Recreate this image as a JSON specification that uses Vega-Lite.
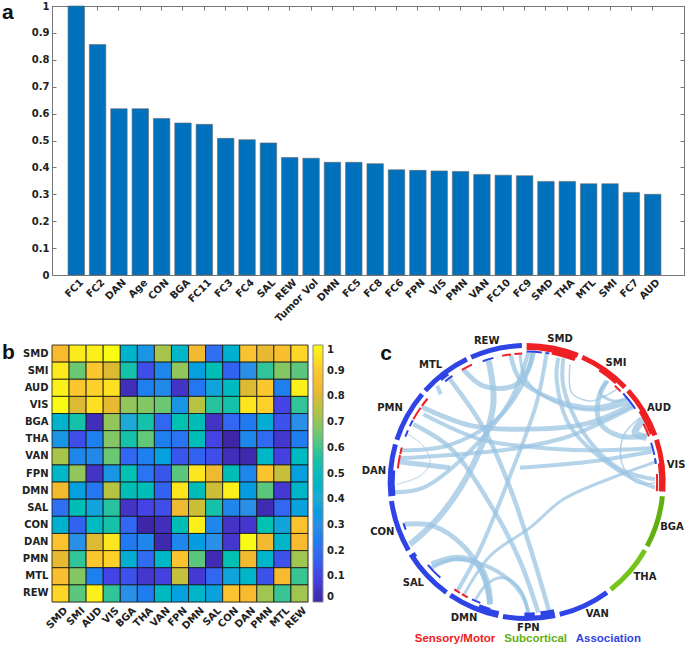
{
"$schema":"https://vega.github.io/schema/vega-lite/v6.json",
"padding":{"left":1,"top":0,"right":0,"bottom":0},
"background":"white",
"bounds":"flush",
"spacing":70,
"config":{"font":"DejaVu Sans","axis":{"labelFont":"DejaVu Sans","labelFontWeight":"bold","labelFontSize":10,"labelColor":"#222"}},
"datasets":{
"bars":[{"n":"FC1","v":1},{"n":"FC2","v":0.857},{"n":"DAN","v":0.618},{"n":"Age","v":0.618},{"n":"CON","v":0.582},{"n":"BGA","v":0.565},{"n":"FC11","v":0.56},{"n":"FC3","v":0.508},{"n":"FC4","v":0.503},{"n":"SAL","v":0.491},{"n":"REW","v":0.437},{"n":"Tumor Vol","v":0.434},{"n":"DMN","v":0.419},{"n":"FC5","v":0.419},{"n":"FC8","v":0.414},{"n":"FC6","v":0.391},{"n":"FPN","v":0.389},{"n":"VIS","v":0.387},{"n":"PMN","v":0.385},{"n":"VAN","v":0.374},{"n":"FC10","v":0.371},{"n":"FC9","v":0.369},{"n":"SMD","v":0.348},{"n":"THA","v":0.348},{"n":"MTL","v":0.339},{"n":"SMI","v":0.339},{"n":"FC7","v":0.307},{"n":"AUD","v":0.3}],
"ring":[
{"g":"s","a0":0,"a1":22,"r0":134,"r1":139},{"g":"s","a0":24,"a1":46,"r0":134,"r1":139},{"g":"s","a0":48,"a1":70,"r0":134,"r1":139},{"g":"s","a0":72,"a1":94,"r0":134,"r1":139},
{"g":"c","a0":96,"a1":118,"r0":134,"r1":139},{"g":"c2","a0":120,"a1":142,"r0":134,"r1":139},
{"g":"a","a0":144,"a1":166,"r0":134,"r1":139},{"g":"a","a0":168,"a1":190,"r0":134,"r1":139},{"g":"a","a0":192,"a1":214,"r0":134,"r1":139},{"g":"a","a0":216,"a1":238,"r0":134,"r1":139},{"g":"a","a0":240,"a1":262,"r0":134,"r1":139},{"g":"a","a0":264,"a1":286,"r0":134,"r1":139},{"g":"a","a0":288,"a1":310,"r0":134,"r1":139},{"g":"a","a0":312,"a1":334,"r0":134,"r1":139},{"g":"a","a0":336,"a1":358,"r0":134,"r1":139},
{"g":"s","a0":0,"a1":11,"r0":132,"r1":135},{"g":"s","a0":11,"a1":21.5,"r0":130,"r1":135},{"g":"s","a0":33,"a1":42,"r0":132,"r1":135},{"g":"s","a0":58,"a1":69,"r0":132,"r1":135},{"g":"s","a0":82,"a1":94,"r0":132.5,"r1":135},
{"g":"a","a0":264,"a1":275,"r0":132,"r1":135},{"g":"a","a0":196,"a1":201,"r0":131,"r1":135},{"g":"a","a0":192,"a1":196,"r0":132,"r1":135},{"g":"a","a0":168,"a1":174,"r0":130,"r1":135},{"g":"a","a0":176.5,"a1":181,"r0":130.5,"r1":135},{"g":"a","a0":236,"a1":238,"r0":132,"r1":135},{"g":"a","a0":320,"a1":324,"r0":132,"r1":135},
{"g":"a","a0":0,"a1":6.7,"r0":129.5,"r1":131.5},{"g":"a","a0":8.3,"a1":10,"r0":129.5,"r1":131.5},{"g":"a","a0":47.5,"a1":56,"r0":130,"r1":132},{"g":"a","a0":72.5,"a1":78,"r0":129.5,"r1":131.5},{"g":"a","a0":79.5,"a1":82,"r0":129.5,"r1":131.5},
{"g":"s","a0":42.5,"a1":46,"r0":129.5,"r1":131.5},{"g":"s","a0":63.5,"a1":69.5,"r0":129.5,"r1":131.5},{"g":"s","a0":86.5,"a1":94,"r0":129.5,"r1":131.5},
{"g":"s","a0":349,"a1":353,"r0":127.5,"r1":129.5},{"g":"s","a0":354.5,"a1":358,"r0":127.5,"r1":129.5},{"g":"a","a0":340,"a1":345,"r0":127.5,"r1":129.5},{"g":"s","a0":330,"a1":335,"r0":128.5,"r1":130.5},{"g":"a","a0":321,"a1":325,"r0":128.5,"r1":130.5},
{"g":"s","a0":306,"a1":310,"r0":128.5,"r1":130.5},{"g":"s","a0":299,"a1":305,"r0":128.5,"r1":130.5},{"g":"a","a0":295.5,"a1":298.5,"r0":128.5,"r1":130.5},{"g":"a","a0":290.5,"a1":293.5,"r0":128.5,"r1":130.5},
{"g":"s","a0":282.5,"a1":285.5,"r0":128.5,"r1":130.5},{"g":"s","a0":276,"a1":282,"r0":128.5,"r1":130.5},{"g":"a","a0":248.5,"a1":251.5,"r0":129,"r1":131},{"g":"a","a0":222,"a1":230,"r0":128,"r1":130},
{"g":"s","a0":211,"a1":214,"r0":128.5,"r1":130.5},{"g":"s","a0":207,"a1":210,"r0":128.5,"r1":130.5},{"g":"a","a0":201,"a1":205,"r0":128.5,"r1":130.5}
],
"chords":[
{"c":1,"s":1,"x":150,"y":358,"w":4},{"c":1,"s":2,"x":290,"y":345,"w":4},{"c":1,"s":3,"x":440,"y":265,"w":4},{"c":1,"s":4,"x":520,"y":155,"w":4},{"c":1,"s":5,"x":548,"y":65,"w":4},
{"c":2,"s":1,"x":148,"y":382,"w":4},{"c":2,"s":2,"x":300,"y":372,"w":4},{"c":2,"s":3,"x":510,"y":350,"w":4},{"c":2,"s":4,"x":660,"y":315,"w":4},{"c":2,"s":5,"x":850,"y":228,"w":4},
{"c":3,"s":1,"x":145,"y":392,"w":5},{"c":3,"s":2,"x":300,"y":410,"w":5},{"c":3,"s":3,"x":510,"y":410,"w":4},{"c":3,"s":4,"x":710,"y":393,"w":4},{"c":3,"s":5,"x":905,"y":362,"w":4},
{"c":4,"s":1,"x":215,"y":228,"w":5},{"c":4,"s":2,"x":360,"y":283,"w":5},{"c":4,"s":3,"x":510,"y":295,"w":5},{"c":4,"s":4,"x":710,"y":278,"w":5},{"c":4,"s":5,"x":845,"y":222,"w":5},
{"c":5,"s":1,"x":220,"y":250,"w":4},{"c":5,"s":2,"x":390,"y":325,"w":4},{"c":5,"s":3,"x":540,"y":347,"w":4},{"c":5,"s":4,"x":710,"y":358,"w":4},{"c":5,"s":5,"x":905,"y":352,"w":4},
{"c":6,"s":1,"x":300,"y":145,"w":4.5},{"c":6,"s":2,"x":400,"y":290,"w":4.5},{"c":6,"s":3,"x":480,"y":470,"w":4.5},{"c":6,"s":4,"x":550,"y":680,"w":4.5},{"c":6,"s":5,"x":597,"y":840,"w":4.5},
{"c":7,"s":1,"x":190,"y":280,"w":4.5},{"c":7,"s":2,"x":300,"y":350,"w":4.5},{"c":7,"s":3,"x":430,"y":535,"w":4.5},{"c":7,"s":4,"x":510,"y":690,"w":4.5},{"c":7,"s":5,"x":565,"y":845,"w":4.5},
{"c":8,"s":1,"x":170,"y":307,"w":1},{"c":8,"s":2,"x":220,"y":345,"w":1},{"c":8,"s":3,"x":240,"y":395,"w":1},{"c":8,"s":4,"x":210,"y":435,"w":1},{"c":8,"s":5,"x":140,"y":460,"w":1},
{"c":9,"s":1,"x":135,"y":484,"w":4},{"c":9,"s":2,"x":220,"y":470,"w":4},{"c":9,"s":3,"x":350,"y":370,"w":4},{"c":9,"s":4,"x":480,"y":210,"w":4},{"c":9,"s":5,"x":535,"y":65,"w":4},
{"c":10,"s":1,"x":180,"y":640,"w":6},{"c":10,"s":2,"x":270,"y":555,"w":6},{"c":10,"s":3,"x":370,"y":400,"w":6},{"c":10,"s":4,"x":430,"y":220,"w":6},{"c":10,"s":5,"x":415,"y":85,"w":6},
{"c":11,"s":1,"x":162,"y":580,"w":5},{"c":11,"s":2,"x":250,"y":585,"w":5},{"c":11,"s":3,"x":340,"y":645,"w":5},{"c":11,"s":4,"x":400,"y":735,"w":5},{"c":11,"s":5,"x":420,"y":820,"w":5},
{"c":12,"s":1,"x":245,"y":700,"w":6},{"c":12,"s":2,"x":320,"y":680,"w":6},{"c":12,"s":3,"x":385,"y":700,"w":6},{"c":12,"s":4,"x":415,"y":770,"w":6},{"c":12,"s":5,"x":420,"y":820,"w":6},
{"c":13,"s":1,"x":240,"y":712,"w":4},{"c":13,"s":2,"x":320,"y":685,"w":4},{"c":13,"s":3,"x":440,"y":720,"w":4},{"c":13,"s":4,"x":515,"y":790,"w":4},{"c":13,"s":5,"x":535,"y":845,"w":4},
{"c":14,"s":1,"x":375,"y":810,"w":3},{"c":14,"s":2,"x":410,"y":760,"w":3},{"c":14,"s":3,"x":460,"y":740,"w":3},{"c":14,"s":4,"x":510,"y":775,"w":3},{"c":14,"s":5,"x":535,"y":845,"w":3},
{"c":15,"s":1,"x":322,"y":780,"w":4},{"c":15,"s":2,"x":390,"y":655,"w":4},{"c":15,"s":3,"x":480,"y":435,"w":4},{"c":15,"s":4,"x":560,"y":215,"w":4},{"c":15,"s":5,"x":590,"y":65,"w":4},
{"c":16,"s":1,"x":340,"y":795,"w":3},{"c":16,"s":2,"x":420,"y":675,"w":3},{"c":16,"s":3,"x":540,"y":590,"w":3},{"c":16,"s":4,"x":640,"y":505,"w":3},{"c":16,"s":5,"x":800,"y":435,"w":3},{"c":16,"s":6,"x":920,"y":392,"w":3},
{"c":17,"s":1,"x":482,"y":72,"w":4.5},{"c":17,"s":2,"x":510,"y":145,"w":4.5},{"c":17,"s":3,"x":610,"y":205,"w":4.5},{"c":17,"s":4,"x":730,"y":230,"w":4.5},{"c":17,"s":5,"x":835,"y":205,"w":4.5},
{"c":18,"s":1,"x":510,"y":70,"w":3},{"c":18,"s":2,"x":530,"y":150,"w":3},{"c":18,"s":3,"x":620,"y":215,"w":3},{"c":18,"s":4,"x":740,"y":238,"w":3},{"c":18,"s":5,"x":840,"y":215,"w":3},
{"c":19,"s":1,"x":340,"y":115,"w":5},{"c":19,"s":2,"x":400,"y":165,"w":5},{"c":19,"s":3,"x":490,"y":165,"w":5},{"c":19,"s":4,"x":535,"y":115,"w":5},{"c":19,"s":5,"x":550,"y":65,"w":5},
{"c":20,"s":1,"x":640,"y":80,"w":4},{"c":20,"s":2,"x":640,"y":165,"w":4},{"c":20,"s":3,"x":700,"y":305,"w":4},{"c":20,"s":4,"x":810,"y":415,"w":4},{"c":20,"s":5,"x":915,"y":445,"w":4},
{"c":21,"s":1,"x":625,"y":80,"w":4},{"c":21,"s":2,"x":620,"y":145,"w":4},{"c":21,"s":3,"x":660,"y":285,"w":4},{"c":21,"s":4,"x":800,"y":415,"w":4},{"c":21,"s":5,"x":915,"y":470,"w":4},
{"c":22,"s":1,"x":660,"y":100,"w":1.5},{"c":22,"s":2,"x":665,"y":185,"w":1.5},{"c":22,"s":3,"x":720,"y":210,"w":1.5},{"c":22,"s":4,"x":765,"y":195,"w":1.5},{"c":22,"s":5,"x":800,"y":175,"w":1.5},
{"c":23,"s":1,"x":770,"y":150,"w":5},{"c":23,"s":2,"x":745,"y":205,"w":5},{"c":23,"s":3,"x":750,"y":275,"w":5},{"c":23,"s":4,"x":810,"y":315,"w":5},{"c":23,"s":5,"x":890,"y":315,"w":5},
{"c":24,"s":1,"x":775,"y":150,"w":3},{"c":24,"s":2,"x":750,"y":185,"w":3},{"c":24,"s":3,"x":790,"y":210,"w":3},{"c":24,"s":4,"x":835,"y":200,"w":3},
{"c":25,"s":1,"x":870,"y":260,"w":1.5},{"c":25,"s":2,"x":820,"y":315,"w":1.5},{"c":25,"s":3,"x":815,"y":395,"w":1.5},{"c":25,"s":4,"x":860,"y":455,"w":1.5},{"c":25,"s":5,"x":915,"y":455,"w":1.5},
{"c":26,"s":1,"x":880,"y":265,"w":7},{"c":26,"s":2,"x":855,"y":305,"w":7},{"c":26,"s":3,"x":890,"y":320,"w":7},
{"c":27,"s":1,"x":262,"y":165,"w":4},{"c":27,"s":2,"x":272,"y":190,"w":4},
{"c":28,"s":1,"x":135,"y":455,"w":8},{"c":28,"s":2,"x":172,"y":455,"w":6},
{"c":29,"s":1,"x":552,"y":65,"w":14},{"c":29,"s":2,"x":548,"y":100,"w":10},
{"c":30,"s":1,"x":642,"y":82,"w":14},{"c":30,"s":2,"x":640,"y":118,"w":8},
{"c":31,"s":1,"x":915,"y":450,"w":9},{"c":31,"s":2,"x":885,"y":452,"w":7},
{"c":32,"s":1,"x":410,"y":820,"w":8},{"c":32,"s":2,"x":415,"y":790,"w":6},
{"c":33,"s":1,"x":540,"y":845,"w":9},{"c":33,"s":2,"x":535,"y":810,"w":6},
{"c":34,"s":1,"x":590,"y":840,"w":11},{"c":34,"s":2,"x":583,"y":810,"w":7}
],
"labels":[
{"t":"SMD","x":630,"y":25},{"t":"SMI","x":798,"y":97},{"t":"AUD","x":927,"y":232},{"t":"VIS","x":978,"y":403},{"t":"BGA","x":966,"y":587},{"t":"THA","x":885,"y":738},{"t":"VAN","x":742,"y":848},{"t":"FPN","x":535,"y":890},{"t":"DMN","x":342,"y":860},{"t":"SAL","x":190,"y":755},{"t":"CON","x":97,"y":602},{"t":"DAN","x":72,"y":420},{"t":"PMN","x":120,"y":230},{"t":"MTL","x":242,"y":103},{"t":"REW","x":410,"y":30}
],
"groups":[
{"t":"Sensory/Motor","g":"s","x":315,"y":923},{"t":"Subcortical","g":"c","x":557,"y":923},{"t":"Association","g":"a","x":775,"y":923}
],
"cells":[
{"r":"SMD","c":"SMD","v":0.85},{"r":"SMD","c":"SMI","v":0.97},{"r":"SMD","c":"AUD","v":0.98},{"r":"SMD","c":"VIS","v":1},{"r":"SMD","c":"BGA","v":0.45},{"r":"SMD","c":"THA","v":0.32},{"r":"SMD","c":"VAN","v":0.73},{"r":"SMD","c":"FPN","v":0.47},{"r":"SMD","c":"DMN","v":0.84},{"r":"SMD","c":"SAL","v":0.2},{"r":"SMD","c":"CON","v":0.44},{"r":"SMD","c":"DAN","v":0.88},{"r":"SMD","c":"PMN","v":0.82},{"r":"SMD","c":"MTL","v":0.87},{"r":"SMD","c":"REW","v":0.93},
{"r":"SMI","c":"SMD","v":0.97},{"r":"SMI","c":"SMI","v":0.65},{"r":"SMI","c":"AUD","v":0.9},{"r":"SMI","c":"VIS","v":0.8},{"r":"SMI","c":"BGA","v":0.55},{"r":"SMI","c":"THA","v":0.12},{"r":"SMI","c":"VAN","v":0.27},{"r":"SMI","c":"FPN","v":0.7},{"r":"SMI","c":"DMN","v":0.36},{"r":"SMI","c":"SAL","v":0.52},{"r":"SMI","c":"CON","v":0.17},{"r":"SMI","c":"DAN","v":0.3},{"r":"SMI","c":"PMN","v":0.58},{"r":"SMI","c":"MTL","v":0.68},{"r":"SMI","c":"REW","v":0.63},
{"r":"AUD","c":"SMD","v":0.98},{"r":"AUD","c":"SMI","v":0.9},{"r":"AUD","c":"AUD","v":0.92},{"r":"AUD","c":"VIS","v":0.95},{"r":"AUD","c":"BGA","v":0.03},{"r":"AUD","c":"THA","v":0.25},{"r":"AUD","c":"VAN","v":0.28},{"r":"AUD","c":"FPN","v":0.05},{"r":"AUD","c":"DMN","v":0.22},{"r":"AUD","c":"SAL","v":0.38},{"r":"AUD","c":"CON","v":0.49},{"r":"AUD","c":"DAN","v":0.8},{"r":"AUD","c":"PMN","v":0.9},{"r":"AUD","c":"MTL","v":0.25},{"r":"AUD","c":"REW","v":0.98},
{"r":"VIS","c":"SMD","v":1},{"r":"VIS","c":"SMI","v":0.8},{"r":"VIS","c":"AUD","v":0.95},{"r":"VIS","c":"VIS","v":0.82},{"r":"VIS","c":"BGA","v":0.7},{"r":"VIS","c":"THA","v":0.68},{"r":"VIS","c":"VAN","v":0.65},{"r":"VIS","c":"FPN","v":0.32},{"r":"VIS","c":"DMN","v":0.75},{"r":"VIS","c":"SAL","v":0.57},{"r":"VIS","c":"CON","v":0.55},{"r":"VIS","c":"DAN","v":0.96},{"r":"VIS","c":"PMN","v":0.92},{"r":"VIS","c":"MTL","v":0.1},{"r":"VIS","c":"REW","v":0.58},
{"r":"BGA","c":"SMD","v":0.45},{"r":"BGA","c":"SMI","v":0.55},{"r":"BGA","c":"AUD","v":0.03},{"r":"BGA","c":"VIS","v":0.7},{"r":"BGA","c":"BGA","v":0.4},{"r":"BGA","c":"THA","v":0.55},{"r":"BGA","c":"VAN","v":0.18},{"r":"BGA","c":"FPN","v":0.53},{"r":"BGA","c":"DMN","v":0.52},{"r":"BGA","c":"SAL","v":0.05},{"r":"BGA","c":"CON","v":0.18},{"r":"BGA","c":"DAN","v":0.23},{"r":"BGA","c":"PMN","v":0.42},{"r":"BGA","c":"MTL","v":0.13},{"r":"BGA","c":"REW","v":0.3},
{"r":"THA","c":"SMD","v":0.32},{"r":"THA","c":"SMI","v":0.12},{"r":"THA","c":"AUD","v":0.25},{"r":"THA","c":"VIS","v":0.68},{"r":"THA","c":"BGA","v":0.55},{"r":"THA","c":"THA","v":0.64},{"r":"THA","c":"VAN","v":0.25},{"r":"THA","c":"FPN","v":0.21},{"r":"THA","c":"DMN","v":0.51},{"r":"THA","c":"SAL","v":0.1},{"r":"THA","c":"CON","v":0},{"r":"THA","c":"DAN","v":0.27},{"r":"THA","c":"PMN","v":0.19},{"r":"THA","c":"MTL","v":0.06},{"r":"THA","c":"REW","v":0.24},
{"r":"VAN","c":"SMD","v":0.73},{"r":"VAN","c":"SMI","v":0.27},{"r":"VAN","c":"AUD","v":0.28},{"r":"VAN","c":"VIS","v":0.65},{"r":"VAN","c":"BGA","v":0.18},{"r":"VAN","c":"THA","v":0.25},{"r":"VAN","c":"VAN","v":0.36},{"r":"VAN","c":"FPN","v":0.14},{"r":"VAN","c":"DMN","v":0.17},{"r":"VAN","c":"SAL","v":0.12},{"r":"VAN","c":"CON","v":0.03},{"r":"VAN","c":"DAN","v":0.01},{"r":"VAN","c":"PMN","v":0.47},{"r":"VAN","c":"MTL","v":0.09},{"r":"VAN","c":"REW","v":0.49},
{"r":"FPN","c":"SMD","v":0.47},{"r":"FPN","c":"SMI","v":0.7},{"r":"FPN","c":"AUD","v":0.05},{"r":"FPN","c":"VIS","v":0.32},{"r":"FPN","c":"BGA","v":0.53},{"r":"FPN","c":"THA","v":0.21},{"r":"FPN","c":"VAN","v":0.14},{"r":"FPN","c":"FPN","v":0.63},{"r":"FPN","c":"DMN","v":0.96},{"r":"FPN","c":"SAL","v":0.83},{"r":"FPN","c":"CON","v":0.52},{"r":"FPN","c":"DAN","v":0.27},{"r":"FPN","c":"PMN","v":0.89},{"r":"FPN","c":"MTL","v":0.77},{"r":"FPN","c":"REW","v":0.36},
{"r":"DMN","c":"SMD","v":0.84},{"r":"DMN","c":"SMI","v":0.36},{"r":"DMN","c":"AUD","v":0.22},{"r":"DMN","c":"VIS","v":0.75},{"r":"DMN","c":"BGA","v":0.52},{"r":"DMN","c":"THA","v":0.51},{"r":"DMN","c":"VAN","v":0.17},{"r":"DMN","c":"FPN","v":0.96},{"r":"DMN","c":"DMN","v":0.51},{"r":"DMN","c":"SAL","v":0.78},{"r":"DMN","c":"CON","v":0.98},{"r":"DMN","c":"DAN","v":0.35},{"r":"DMN","c":"PMN","v":0.63},{"r":"DMN","c":"MTL","v":0.07},{"r":"DMN","c":"REW","v":0.46},
{"r":"SAL","c":"SMD","v":0.2},{"r":"SAL","c":"SMI","v":0.52},{"r":"SAL","c":"AUD","v":0.38},{"r":"SAL","c":"VIS","v":0.57},{"r":"SAL","c":"BGA","v":0.05},{"r":"SAL","c":"THA","v":0.1},{"r":"SAL","c":"VAN","v":0.12},{"r":"SAL","c":"FPN","v":0.83},{"r":"SAL","c":"DMN","v":0.78},{"r":"SAL","c":"SAL","v":0.55},{"r":"SAL","c":"CON","v":0.27},{"r":"SAL","c":"DAN","v":0.3},{"r":"SAL","c":"PMN","v":0.02},{"r":"SAL","c":"MTL","v":0.18},{"r":"SAL","c":"REW","v":0.37},
{"r":"CON","c":"SMD","v":0.44},{"r":"CON","c":"SMI","v":0.17},{"r":"CON","c":"AUD","v":0.49},{"r":"CON","c":"VIS","v":0.55},{"r":"CON","c":"BGA","v":0.18},{"r":"CON","c":"THA","v":0},{"r":"CON","c":"VAN","v":0.03},{"r":"CON","c":"FPN","v":0.52},{"r":"CON","c":"DMN","v":0.98},{"r":"CON","c":"SAL","v":0.27},{"r":"CON","c":"CON","v":0.05},{"r":"CON","c":"DAN","v":0.06},{"r":"CON","c":"PMN","v":0.53},{"r":"CON","c":"MTL","v":0.38},{"r":"CON","c":"REW","v":0.88},
{"r":"DAN","c":"SMD","v":0.88},{"r":"DAN","c":"SMI","v":0.3},{"r":"DAN","c":"AUD","v":0.8},{"r":"DAN","c":"VIS","v":0.96},{"r":"DAN","c":"BGA","v":0.23},{"r":"DAN","c":"THA","v":0.27},{"r":"DAN","c":"VAN","v":0.01},{"r":"DAN","c":"FPN","v":0.27},{"r":"DAN","c":"DMN","v":0.35},{"r":"DAN","c":"SAL","v":0.3},{"r":"DAN","c":"CON","v":0.06},{"r":"DAN","c":"DAN","v":1},{"r":"DAN","c":"PMN","v":0.84},{"r":"DAN","c":"MTL","v":0.46},{"r":"DAN","c":"REW","v":0.85},
{"r":"PMN","c":"SMD","v":0.82},{"r":"PMN","c":"SMI","v":0.58},{"r":"PMN","c":"AUD","v":0.9},{"r":"PMN","c":"VIS","v":0.92},{"r":"PMN","c":"BGA","v":0.42},{"r":"PMN","c":"THA","v":0.19},{"r":"PMN","c":"VAN","v":0.47},{"r":"PMN","c":"FPN","v":0.89},{"r":"PMN","c":"DMN","v":0.63},{"r":"PMN","c":"SAL","v":0.02},{"r":"PMN","c":"CON","v":0.53},{"r":"PMN","c":"DAN","v":0.84},{"r":"PMN","c":"PMN","v":0.46},{"r":"PMN","c":"MTL","v":0.13},{"r":"PMN","c":"REW","v":0.72},
{"r":"MTL","c":"SMD","v":0.87},{"r":"MTL","c":"SMI","v":0.68},{"r":"MTL","c":"AUD","v":0.25},{"r":"MTL","c":"VIS","v":0.1},{"r":"MTL","c":"BGA","v":0.13},{"r":"MTL","c":"THA","v":0.06},{"r":"MTL","c":"VAN","v":0.09},{"r":"MTL","c":"FPN","v":0.77},{"r":"MTL","c":"DMN","v":0.07},{"r":"MTL","c":"SAL","v":0.18},{"r":"MTL","c":"CON","v":0.38},{"r":"MTL","c":"DAN","v":0.46},{"r":"MTL","c":"PMN","v":0.13},{"r":"MTL","c":"MTL","v":0.85},{"r":"MTL","c":"REW","v":0.59},
{"r":"REW","c":"SMD","v":0.93},{"r":"REW","c":"SMI","v":0.63},{"r":"REW","c":"AUD","v":0.98},{"r":"REW","c":"VIS","v":0.58},{"r":"REW","c":"BGA","v":0.3},{"r":"REW","c":"THA","v":0.24},{"r":"REW","c":"VAN","v":0.49},{"r":"REW","c":"FPN","v":0.36},{"r":"REW","c":"DMN","v":0.46},{"r":"REW","c":"SAL","v":0.37},{"r":"REW","c":"CON","v":0.88},{"r":"REW","c":"DAN","v":0.85},{"r":"REW","c":"PMN","v":0.72},{"r":"REW","c":"MTL","v":0.59},{"r":"REW","c":"REW","v":0.72}
]
},
"vconcat":[
{
"width":632,"height":269,
"title":{"text":"a","anchor":"start","frame":"group","dx":-50,"dy":22,"offset":0,"font":"Liberation Sans","fontSize":21,"fontWeight":"bold","color":"#111"},
"view":{"stroke":"#777","strokeWidth":1},
"data":{"name":"bars"},
"resolve":{"axis":{"x":"independent","y":"independent"}},
"layer":[
{"mark":{"type":"bar","color":"#0072bd","stroke":"#666","strokeWidth":0.6},
"encoding":{
"x":{"field":"n","type":"nominal","sort":null,"title":null,"scale":{"paddingInner":0.23,"paddingOuter":0.915,"align":0.41},
"axis":{"labelAngle":-45,"labelAlign":"right","labelBaseline":"top","labelPadding":2,"labelOffset":2,"tickSize":0,"domainColor":"#777","labelLimit":200}},
"y":{"field":"v","type":"quantitative","title":null,"scale":{"domain":[0,1],"nice":false},
"axis":{"values":[0,0.1,0.2,0.3,0.4,0.5,0.6,0.7,0.8,0.9,1],"labelExpr":"datum.value","tickSize":-4,"tickColor":"#777","domainColor":"#777","grid":false,"labelPadding":7}}}},
{"mark":{"type":"bar","opacity":0},
"encoding":{
"x":{"field":"n","type":"nominal","sort":null,"title":null,"axis":{"orient":"top","labels":false,"tickSize":-4,"tickColor":"#777","domainColor":"#777"}},
"y":{"field":"v","type":"quantitative","title":null,"axis":{"orient":"right","values":[0,0.1,0.2,0.3,0.4,0.5,0.6,0.7,0.8,0.9,1],"labels":false,"tickSize":-4,"tickColor":"#777","domainColor":"#777","grid":false}}}}
]
},
{
"hconcat":[
{
"width":256,"height":257,
"title":{"text":"b","anchor":"start","frame":"group","dx":-50,"dy":18,"offset":0,"font":"Liberation Sans","fontSize":21,"fontWeight":"bold","color":"#111"},
"data":{"name":"cells"},
"mark":{"type":"rect","stroke":"#111","strokeWidth":0.8},
"encoding":{
"x":{"field":"c","type":"nominal","title":null,"sort":["SMD","SMI","AUD","VIS","BGA","THA","VAN","FPN","DMN","SAL","CON","DAN","PMN","MTL","REW"],"axis":{"labelAngle":-45,"labelAlign":"right","labelBaseline":"top","labelPadding":3,"labelOffset":2,"tickSize":0,"domain":false}},
"y":{"field":"r","type":"nominal","title":null,"sort":["SMD","SMI","AUD","VIS","BGA","THA","VAN","FPN","DMN","SAL","CON","DAN","PMN","MTL","REW"],"axis":{"labelPadding":4,"tickSize":0,"domain":false}},
"color":{"field":"v","type":"quantitative","title":null,
"scale":{"domain":[0,0.1,0.2,0.3,0.4,0.5,0.6,0.7,0.8,0.85,0.9,1],"range":["#3e26a8","#4543e6","#2f6ff2","#2a8fe6","#1fa9d6","#08bcbe","#41c58d","#92c65a","#dcba34","#f8ba2e","#fbc72f","#f9fb15"]},
"legend":{"orient":"right","offset":5,"gradientLength":257,"gradientThickness":10,"gradientStrokeColor":"#888","gradientStrokeWidth":1,"values":[0,0.1,0.2,0.3,0.4,0.5,0.6,0.7,0.8,0.9,1],"labelExpr":"datum.value","labelFont":"DejaVu Sans","labelFontWeight":"bold","labelFontSize":10,"labelColor":"#222","labelOverlap":false,"labelOffset":4}}
}
},
{
"width":325,"height":300,
"view":{"stroke":null},
"layer":[
{"data":{"name":"chords"},
"mark":{"type":"line","interpolate":"catmull-rom","color":"#98c4e2","opacity":0.72,"strokeCap":"butt"},
"encoding":{
"x":{"field":"x","type":"quantitative","title":null,"axis":null,"scale":{"domain":[30,1005],"nice":false,"zero":false}},
"y":{"field":"y","type":"quantitative","title":null,"axis":null,"scale":{"domain":[42,942],"nice":false,"zero":false,"reverse":true}},
"detail":{"field":"c"},"order":{"field":"s","type":"quantitative"},"strokeWidth":{"field":"w","type":"quantitative","scale":null,"legend":null}}},
{"data":{"name":"ring"},
"mark":{"type":"arc"},
"encoding":{
"x":{"datum":530,"type":"quantitative","axis":null},"y":{"datum":453,"type":"quantitative","axis":null},
"theta":{"field":"a0","type":"quantitative","scale":{"domain":[0,360],"range":[0,6.283185]}},
"theta2":{"field":"a1"},
"radius":{"field":"r1","type":"quantitative","scale":{"type":"linear","domain":[0,200],"range":[0,200]}},
"radius2":{"field":"r0"},
"color":{"field":"g","type":"nominal","legend":null,"scale":{"domain":["s","c","c2","a"],"range":["#ee2024","#62b010","#74c41c","#2f44e4"]}}}},
{"data":{"name":"labels"},
"mark":{"type":"text","font":"DejaVu Sans","fontWeight":"bold","fontSize":10,"color":"#222"},
"encoding":{"x":{"field":"x","type":"quantitative","axis":null},"y":{"field":"y","type":"quantitative","axis":null},"text":{"field":"t"}}},
{"data":{"name":"groups"},
"mark":{"type":"text","font":"Liberation Sans","fontWeight":"bold","fontSize":11.5},
"encoding":{"x":{"field":"x","type":"quantitative","axis":null},"y":{"field":"y","type":"quantitative","axis":null},"text":{"field":"t"},"color":{"field":"g","type":"nominal","legend":null,"scale":{"domain":["s","c","c2","a"],"range":["#ee2024","#62b010","#74c41c","#2f44e4"]}}}},
{"data":{"values":[{"t":"c","x":108,"y":68}]},
"mark":{"type":"text","font":"Liberation Sans","fontWeight":"bold","fontSize":21,"color":"#111"},
"encoding":{"x":{"field":"x","type":"quantitative","axis":null},"y":{"field":"y","type":"quantitative","axis":null},"text":{"field":"t"}}}
]
}
],
"spacing":52,
"bounds":"flush",
"resolve":{"scale":{"color":"independent"}}
}
]
}
